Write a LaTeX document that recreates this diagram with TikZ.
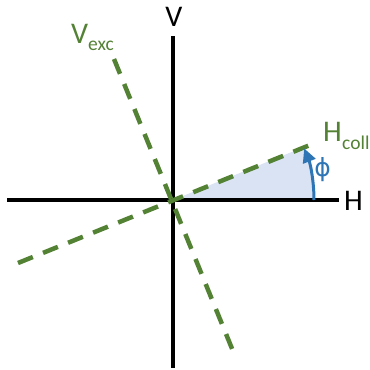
\documentclass[tikz,border=0pt]{standalone}
\usepackage{fontspec}
\setmainfont{Carlito}
\newfontfamily\phifont{DejaVu Sans}
\usetikzlibrary{arrows.meta}
\definecolor{axgreen}{RGB}{84,130,53}
\definecolor{axblue}{RGB}{46,117,182}
\definecolor{wedge}{RGB}{218,227,243}
\tikzset{
  axis/.style={line width=4pt, black},
  beam/.style={line width=4.5pt, axgreen, dash pattern=on 16pt off 11pt},
  lbl/.style={inner sep=0pt, anchor=base west, font=\fontsize{30}{31}\selectfont},
  sub/.style={inner sep=0pt, anchor=base west, text=axgreen, font=\fontsize{19.5}{20}\selectfont},
  angarrow/.style={line width=3pt, axblue, -{Triangle[length=14pt,width=13pt]}},
}
\begin{document}
\begin{tikzpicture}[x=1pt,y=-1pt]
\useasboundingbox (0,0) rectangle (370,370);
\coordinate (O) at (173,200);
\coordinate (hl) at (7,200);
\coordinate (hr) at (339,200);
\coordinate (vt) at (173,36);
\coordinate (vb) at (173,368);
\coordinate (c1) at (18,263);
\coordinate (c2) at (315,143);
\coordinate (e1) at (114,59);
\coordinate (e2) at (235,356);
% wedge
\fill[wedge] (O) -- ++(0:141) arc[start angle=0,end angle=-22,radius=141] -- cycle;
% axes
\draw[axis] (hl) -- (hr);
\draw[axis] (vt) -- (vb);
% beams
\draw[beam] (c1) -- (c2);
\draw[beam] (e1) -- (e2);
% angle arrow
\draw[angarrow] (O) ++(0:141) arc[start angle=0,end angle=-21.5,radius=141];
% labels
\node[lbl, anchor=base] (Vl) at (174,26) {V};
\node[lbl] (Hl) at (344,210) {H};
\node[lbl, text=axgreen] (Ve) at (71,43) {V};
\node[sub] (Vs) at (88,50) {exc};
\node[lbl, text=axgreen] (Hc) at (323,141) {H};
\node[sub] (Hs) at (342,149) {coll};
\node[inner sep=0pt, text=axblue, font=\phifont\fontsize{25}{26}\selectfont] (phi) at (322.5,169.5) {ϕ};
\end{tikzpicture}
\end{document}
